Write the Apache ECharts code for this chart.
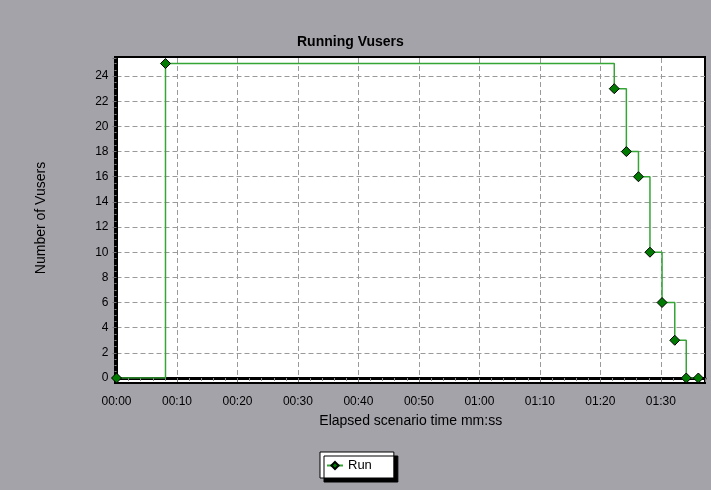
<!DOCTYPE html>
<html>
<head>
<meta charset="utf-8">
<script src="https://cdn.jsdelivr.net/npm/echarts@6/dist/echarts.min.js"></script>
<style>
  html, body { margin: 0; padding: 0; background: #a4a3a9; }
  #chart { width: 711px; height: 490px; }
</style>
</head>
<body>
<div id="chart"></div>
<script>
// elapsed seconds and running vusers
const runTimes = [0, 8.1, 82.3, 84.3, 86.3, 88.2, 90.2, 92.3, 94.2, 96.2];
const runUsers = [0, 25, 23, 18, 16, 10, 6, 3, 0, 0];
const yTicks = [0, 2, 4, 6, 8, 10, 12, 14, 16, 18, 20, 22, 24];

const font = '"Liberation Sans", Arial, sans-serif';

function fmtTime(v) {
    const s = Math.round(v);
    const mm = String(Math.floor(s / 60)).padStart(2, '0');
    const ss = String(s % 60).padStart(2, '0');
    return mm + ':' + ss;
}

const chart = echarts.init(document.getElementById('chart'));

const dashed = { show: true, showMinLine: false, showMaxLine: false,
                 lineStyle: { color: '#9a9a9a', type: [5, 3], width: 1 } };

const option = {
    backgroundColor: '#a4a3a9',
    animation: false,
    title: {
        text: 'Running Vusers',
        left: 292,
        top: 30,
        textStyle: { fontFamily: font, fontSize: 14, fontWeight: 'bold', color: '#000' }
    },
    legend: {
        left: 320,
        top: 452,
        padding: [7, 22, 6, 6],
        itemWidth: 16,
        itemHeight: 9,
        itemGap: 4,
        backgroundColor: '#fff',
        borderColor: '#000',
        borderWidth: 1,
        shadowColor: '#000',
        shadowBlur: 0,
        shadowOffsetX: 4,
        shadowOffsetY: 4,
        textStyle: { fontFamily: font, fontSize: 13, color: '#000' },
        data: ['Run']
    },
    grid: [
        // data area
        { left: 116.5, right: 6, top: 58, bottom: 112, show: false },
        // white frame behind the plot
        { left: 115, right: 6, top: 57, bottom: 107, show: true, z: -1,
          backgroundColor: '#fff', borderColor: '#000', borderWidth: 2 }
    ],
    xAxis: [
        {
            gridIndex: 0,
            type: 'value',
            min: 0,
            max: 97.3,
            interval: 10,
            offset: 4,
            name: 'Elapsed scenario time mm:ss',
            nameLocation: 'middle',
            nameGap: 32,
            nameTextStyle: { fontFamily: font, fontSize: 14, color: '#000' },
            axisLine: { show: true, lineStyle: { color: '#000', width: 3 } },
            axisTick: { show: true, length: 4, lineStyle: { color: '#777' } },
            minorTick: { show: true, splitNumber: 5, length: 3, lineStyle: { color: '#888' } },
            axisLabel: {
                margin: 14,
                showMaxLabel: false,
                fontFamily: font, fontSize: 12, color: '#000',
                formatter: fmtTime
            },
            splitLine: dashed
        },
        { gridIndex: 1, type: 'value', show: false, min: 0, max: 1 }
    ],
    yAxis: [
        {
            gridIndex: 0,
            type: 'value',
            min: 0,
            max: 25.44,
            interval: 2,
            name: 'Number of Vusers',
            nameLocation: 'middle',
            nameGap: 68,
            nameTextStyle: { fontFamily: font, fontSize: 14, color: '#000' },
            axisLine: { show: true, lineStyle: { color: '#000', width: 3 } },
            axisTick: { show: true, length: 4, lineStyle: { color: '#777' } },
            minorTick: { show: true, splitNumber: 4, length: 2, lineStyle: { color: '#888' } },
            axisLabel: {
                margin: 8,
                fontFamily: font, fontSize: 12, color: '#000',
                formatter: function (v) { return yTicks.indexOf(v) >= 0 ? String(v) : ''; }
            },
            splitLine: dashed
        },
        { gridIndex: 1, type: 'value', show: false, min: 0, max: 1 }
    ],
    series: [
        {
            name: 'Run',
            type: 'line',
            xAxisIndex: 0,
            yAxisIndex: 0,
            step: 'end',
            data: runTimes.map((t, i) => [t, runUsers[i]]),
            symbol: 'diamond',
            symbolSize: 10,
            showAllSymbol: true,
            lineStyle: { color: '#35a535', width: 1.5 },
            itemStyle: { color: '#007a00', borderColor: '#000', borderWidth: 1 },
            z: 3
        }
    ]
};

chart.setOption(option);
</script>
</body>
</html>
